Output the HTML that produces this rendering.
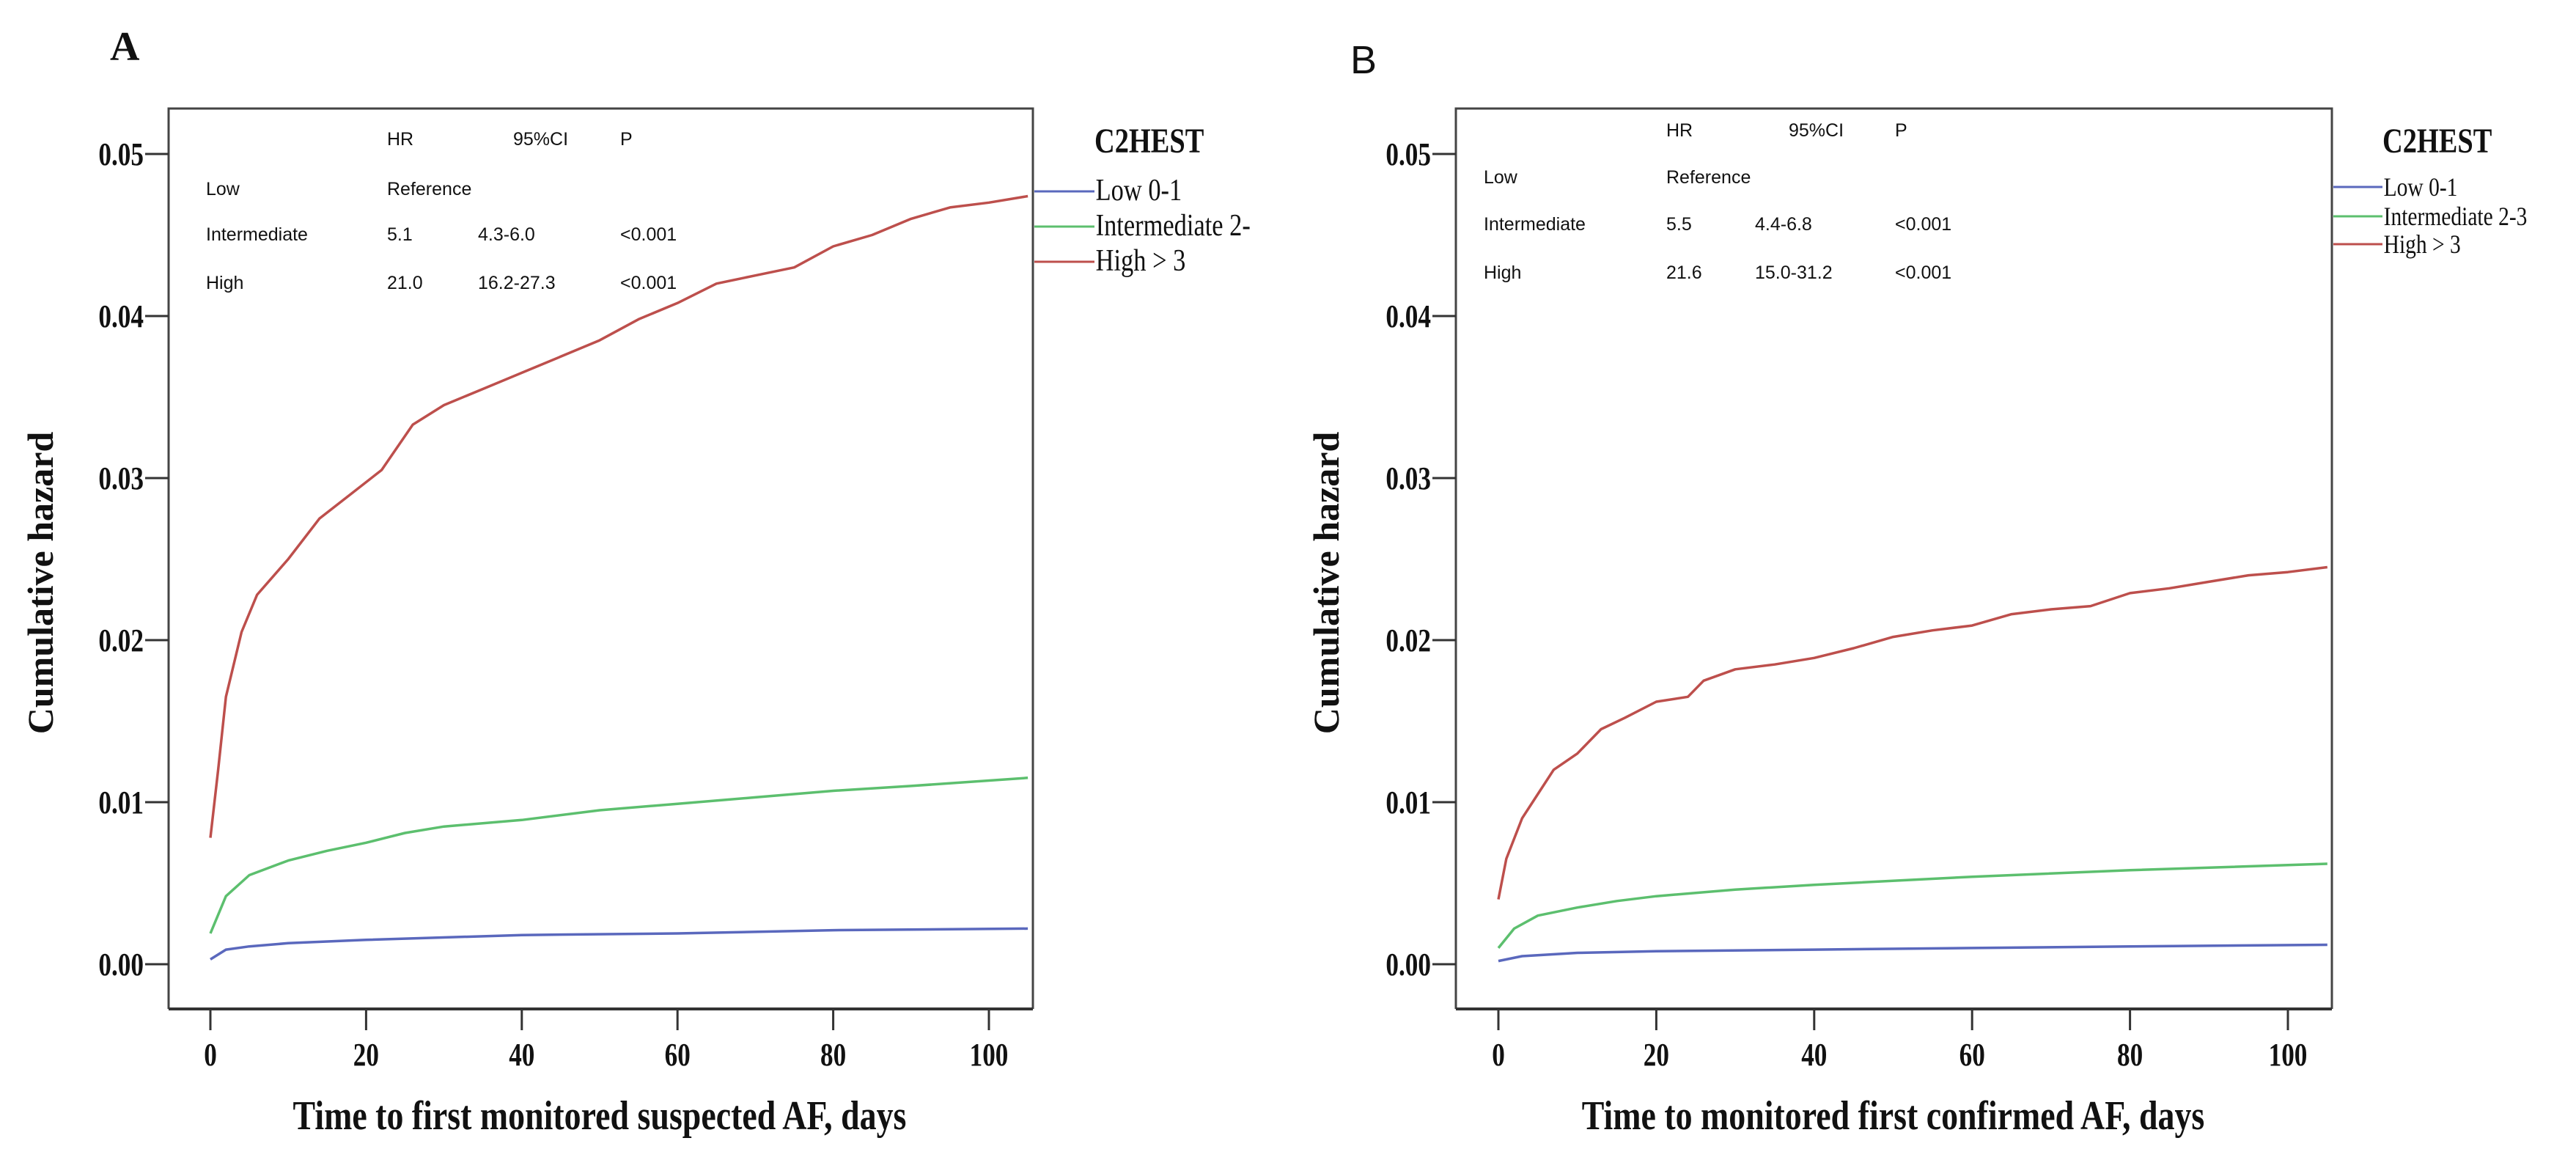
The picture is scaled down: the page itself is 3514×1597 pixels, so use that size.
<!DOCTYPE html>
<html><head><meta charset="utf-8"><style>
html,body{margin:0;padding:0;background:#fff;}
svg{display:block;}
.tick{font-family:"Liberation Serif",serif;font-weight:bold;font-size:44px;fill:#111;}
.ttl{font-family:"Liberation Serif",serif;font-weight:bold;fill:#111;}
.tbl{font-family:"Liberation Sans",sans-serif;font-size:25px;fill:#111;}
.leg{font-family:"Liberation Serif",serif;fill:#111;}
</style></head><body>
<svg id="chart" width="3514" height="1597" viewBox="0 0 3514 1597" xmlns="http://www.w3.org/2000/svg"></svg>
<script>
const xTicks=[0,20,40,60,80,100];
const yTicks=[0,0.01,0.02,0.03,0.04,0.05];
const yTickLabels=["0.00","0.01","0.02","0.03","0.04","0.05"];
const seriesNames=["low","intermediate","high"];
const aDaysLow=[0,2,5,10,20,40,60,80,105];
const aLow=[0.0003,0.0009,0.0011,0.0013,0.0015,0.0018,0.0019,0.0021,0.0022];
const aDaysInt=[0,2,5,10,15,20,25,30,40,50,60,70,80,90,105];
const aInt=[0.0019,0.0042,0.0055,0.0064,0.007,0.0075,0.0081,0.0085,0.0089,0.0095,0.0099,0.0103,0.0107,0.011,0.0115];
const aDaysHigh=[0,1,2,4,6,10,14,18,22,26,30,35,40,45,50,55,60,65,70,75,80,85,90,95,100,105];
const aHigh=[0.0078,0.012,0.0165,0.0205,0.0228,0.025,0.0275,0.029,0.0305,0.0333,0.0345,0.0355,0.0365,0.0375,0.0385,0.0398,0.0408,0.042,0.0425,0.043,0.0443,0.045,0.046,0.0467,0.047,0.0474];
const bDaysLow=[0,3,10,20,40,60,80,105];
const bLow=[0.0002,0.0005,0.0007,0.0008,0.0009,0.001,0.0011,0.0012];
const bDaysInt=[0,2,5,10,15,20,30,40,60,80,105];
const bInt=[0.001,0.0022,0.003,0.0035,0.0039,0.0042,0.0046,0.0049,0.0054,0.0058,0.0062];
const bDaysHigh=[0,1,3,5,7,10,13,16,20,24,26,30,35,40,45,50,55,60,65,70,75,80,85,90,95,100,105];
const bHigh=[0.004,0.0065,0.009,0.0105,0.012,0.013,0.0145,0.0152,0.0162,0.0165,0.0175,0.0182,0.0185,0.0189,0.0195,0.0202,0.0206,0.0209,0.0216,0.0219,0.0221,0.0229,0.0232,0.0236,0.024,0.0242,0.0245];
const legendA=["Low 0-1","Intermediate 2-","High > 3"];
const legendB=["Low 0-1","Intermediate 2-3","High > 3"];
const tableRowsA=[["Low","Reference","",""],["Intermediate","5.1","4.3-6.0","<0.001"],["High","21.0","16.2-27.3","<0.001"]];
const tableRowsB=[["Low","Reference","",""],["Intermediate","5.5","4.4-6.8","<0.001"],["High","21.6","15.0-31.2","<0.001"]];
const colors=["#5a68bd","#5cbf6e","#bd4f4c"];

const NS="http://www.w3.org/2000/svg";
const svg=document.getElementById('chart');
function mk(tag,attrs,parent,text){const e=document.createElementNS(NS,tag);for(const k in attrs)e.setAttribute(k,attrs[k]);if(text!==undefined)e.textContent=text;(parent||svg).appendChild(e);return e;}

function panel(p){
  const g=mk('g',{});
  
  
  const xs=d=>p.x0+d*p.xs;
  const ys=v=>1315-v*22100;
  const fr=mk('path',{d:`M${p.left},1376 V148 H${p.right} V1376`,fill:'none',stroke:'#444','stroke-width':3},g);
  
  
  const xa=mk('line',{x1:p.left,x2:p.right,y1:1376,y2:1376,stroke:'#333','stroke-width':4},g);
  
  
  xTicks.forEach(t=>{
    const tk=mk('line',{x1:xs(t),x2:xs(t),y1:1376,y2:1405,stroke:'#333','stroke-width':3},g);
    
    
    const tl=mk('text',{x:xs(t),y:1453,'text-anchor':'middle',class:'tick',transform:`translate(${xs(t)},0) scale(0.8,1) translate(${-xs(t)},0)`},g,String(t));
    
    
  });
  yTicks.forEach((t,i)=>{
    const tk=mk('line',{x1:p.left-32,x2:p.left,y1:ys(t),y2:ys(t),stroke:'#333','stroke-width':3},g);
    
    
    const lx=p.left-34;
    const tl=mk('text',{x:lx,y:ys(t)+15,'text-anchor':'end',class:'tick',transform:`translate(${lx},0) scale(0.8,1) translate(${-lx},0)`},g,yTickLabels[i]);
    
    
  });
  p.series.forEach((s,i)=>{
    const d=s.days.map((dd,j)=>(j?'L':'M')+xs(dd).toFixed(1)+','+ys(s.vals[j]).toFixed(1)).join(' ');
    const pl=mk('path',{d:d,fill:'none',stroke:colors[i],'stroke-width':3.5,'stroke-linejoin':'round'},g);
    
    
  });
  const cx=(p.x0+xs(100))/2;
  const xt=mk('text',{x:cx,y:1540,'text-anchor':'middle',class:'ttl','font-size':56,transform:`translate(${cx},0) scale(0.82,1) translate(${-cx},0)`},g,p.xTitle);
  
  
  const yt=mk('text',{x:0,y:0,'text-anchor':'middle',class:'ttl','font-size':50,transform:`translate(${p.ytx},795) rotate(-90)`},g,'Cumulative hazard');
  
  
  const pl=mk('text',{x:p.lx,y:p.ly,style:p.id==='A'?'font-family:"Liberation Serif",serif;font-weight:bold;font-size:56px;fill:#111':'font-family:"Liberation Sans",sans-serif;font-size:54px;fill:#111'},g,p.id);
  
  
  const hdr=[['HR',p.tc[1]],['95%CI',p.tc[2]+p.ciOff],['P',p.tc[3]]];
  hdr.forEach(h=>{const t=mk('text',{x:h[1],y:p.ty[0],class:'tbl'},g,h[0]);
    
    });
  p.table.forEach((r,ri)=>{r.forEach((c,ci)=>{if(!c)return;
    const t=mk('text',{x:p.tc[ci],y:p.ty[ri+1],class:'tbl'},g,c);
    
    });});
  const lt=mk('text',{x:p.legX,y:208,class:'leg','font-weight':'bold','font-size':48,transform:`translate(${p.legX},0) scale(0.8,1) translate(${-p.legX},0)`},g,'C2HEST');
  
  
  p.legend.forEach((n,i)=>{
    const y=p.legY[i];
    const ln=mk('line',{x1:p.right+2,x2:p.legX,y1:y,y2:y,stroke:colors[i],'stroke-width':3},g);
    
    
    const tx=mk('text',{x:p.legX+2,y:y+12,class:'leg','font-size':p.legFs,transform:`translate(${p.legX},0) scale(0.82,1) translate(${-p.legX},0)`},g,n);
    
    
  });
}
panel({id:'A',left:230,right:1409,x0:287,xs:10.62,ytx:72,lx:150,ly:82,
  xTitle:'Time to first monitored suspected AF, days',
  series:[{days:aDaysLow,vals:aLow},{days:aDaysInt,vals:aInt},{days:aDaysHigh,vals:aHigh}],
  table:tableRowsA,tc:[281,528,652,846],ciOff:48,ty:[198,266,328,394],
  legend:legendA,legX:1493,legY:[261,309,357],legFs:42});
panel({id:'B',left:1986,right:3181,x0:2044,xs:10.77,ytx:1826,lx:1842,ly:100,
  xTitle:'Time to monitored first confirmed AF, days',
  series:[{days:bDaysLow,vals:bLow},{days:bDaysInt,vals:bInt},{days:bDaysHigh,vals:bHigh}],
  table:tableRowsB,tc:[2024,2273,2394,2585],ciOff:46,ty:[186,250,314,380],
  legend:legendB,legX:3250,legY:[255,295,333],legFs:36});
</script>
</body></html>
